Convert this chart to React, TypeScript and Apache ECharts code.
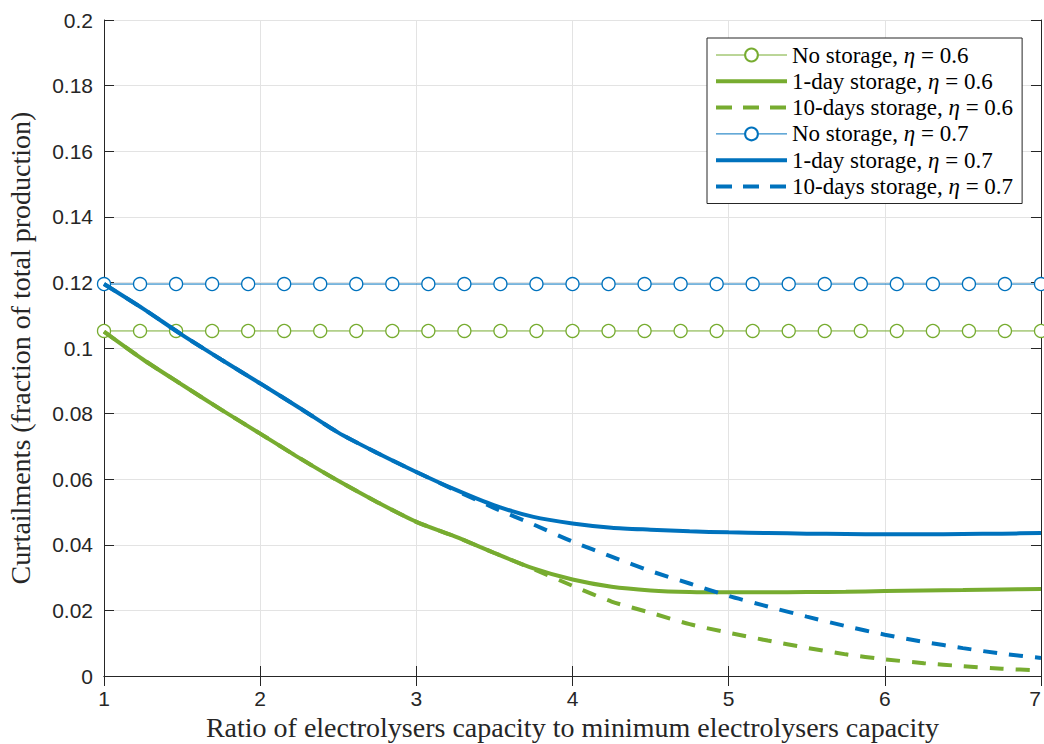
import React, { useEffect, useRef } from "react";
import * as echarts from "echarts";

const xGrid = [1, 1.25, 1.5, 1.75, 2, 2.25, 2.5, 2.75, 3, 3.25, 3.5, 3.75, 4, 4.25, 4.5, 4.75, 5, 5.25, 5.5, 5.75, 6, 6.25, 6.5, 6.75, 7];

const green1Day = [0.1050, 0.0965, 0.0888, 0.0812, 0.0739, 0.0665, 0.0595, 0.0530, 0.0470, 0.0425, 0.0375, 0.0328, 0.0294, 0.0272, 0.0261, 0.0256, 0.0255, 0.0255, 0.0256, 0.0257, 0.0259, 0.0261, 0.0262, 0.0264, 0.0265];
const green10Days = [0.1050, 0.0965, 0.0888, 0.0812, 0.0739, 0.0665, 0.0595, 0.0530, 0.0470, 0.0425, 0.0375, 0.0326, 0.0275, 0.0227, 0.0193, 0.0158, 0.0132, 0.0108, 0.0086, 0.0066, 0.0051, 0.0039, 0.0030, 0.0022, 0.0017];
const blue1Day = [0.1195, 0.1120, 0.1040, 0.0965, 0.0892, 0.0818, 0.0742, 0.0680, 0.0622, 0.0568, 0.0520, 0.0485, 0.0465, 0.0452, 0.0446, 0.0441, 0.0438, 0.0436, 0.0434, 0.0433, 0.0432, 0.0432, 0.0433, 0.0434, 0.0436];
const blue10Days = [0.1195, 0.1120, 0.1040, 0.0965, 0.0892, 0.0818, 0.0742, 0.0680, 0.0622, 0.0566, 0.0512, 0.0462, 0.0410, 0.0364, 0.0320, 0.0282, 0.0244, 0.0212, 0.0181, 0.0152, 0.0126, 0.0104, 0.0085, 0.0068, 0.0055];

const markerX = [1, 1.2308, 1.4615, 1.6923, 1.9231, 2.1538, 2.3846, 2.6154, 2.8462, 3.0769, 3.3077, 3.5385, 3.7692, 4, 4.2308, 4.4615, 4.6923, 4.9231, 5.1538, 5.3846, 5.6154, 5.8462, 6.0769, 6.3077, 6.5385, 6.7692, 7];
const greenNoStorage = 0.1052;
const blueNoStorage = 0.1195;

const seriesNames = [
  "No storage, η = 0.6",
  "1-day storage, η = 0.6",
  "10-days storage, η = 0.6",
  "No storage, η = 0.7",
  "1-day storage, η = 0.7",
  "10-days storage, η = 0.7",
];

const xTitle = "Ratio of electrolysers capacity to minimum electrolysers capacity";
const yTitle = "Curtailments (fraction of total production)";

const GREEN = "#77AC30";
const BLUE = "#0072BD";
const AXIS = "#262626";

const pair = (xs: number[], ys: number[]) => xs.map((x, i) => [x, ys[i]]);
const flat = (xs: number[], v: number) => xs.map((x) => [x, v]);

export default function App() {
  const ref = useRef<HTMLDivElement>(null);
  useEffect(() => {
    if (!ref.current) return;
    const chart = echarts.init(ref.current, null, { renderer: "svg" });
    const tickFont = { fontFamily: "Liberation Sans", fontSize: 21, color: AXIS };
    const thick = (name: string, color: string, data: number[][], dashed: boolean) => ({
      name,
      type: "line",
      data,
      symbol: "none",
      smooth: 0.25,
      lineStyle: { color, width: 4, type: dashed ? [14, 12] : "solid" },
      itemStyle: { color },
      z: 3,
    });
    const noStore = (name: string, color: string, data: number[][]) => ({
      name,
      type: "line",
      data,
      symbol: "circle",
      symbolSize: 13,
      lineStyle: { color, width: 1 },
      itemStyle: { color: "#ffffff", borderColor: color, borderWidth: 1.3 },
      z: 2,
    });
    const colors = [GREEN, GREEN, GREEN, BLUE, BLUE, BLUE];
    const legendItem = (i: number) => {
      const kind = i % 3;
      const base: any = { name: seriesNames[i] };
      if (kind === 0) {
        base.lineStyle = { width: 1, color: colors[i], type: "solid" };
      } else {
        base.itemStyle = { opacity: 0 };
        base.lineStyle = { width: 4, color: colors[i], type: kind === 2 ? [16, 11] : "solid" };
      }
      return base;
    };
    chart.setOption({
      animation: false,
      backgroundColor: "#ffffff",
      grid: { left: 104, top: 20, right: 3, bottom: 68, containLabel: false, outerBoundsMode: "none" },
      legend: {
        orient: "vertical",
        left: 707,
        top: 38,
        padding: [5, 9, 5, 7],
        itemWidth: 71,
        itemHeight: 16,
        itemGap: 2.3,
        backgroundColor: "#ffffff",
        borderColor: AXIS,
        borderWidth: 1,
        borderRadius: 0,
        data: seriesNames.map((_, i) => legendItem(i)),
        formatter: (n: string) => n.replace("η", "{i|η}"),
        textStyle: {
          fontFamily: "Liberation Serif",
          fontSize: 23,
          color: "#000",
          lineHeight: 24,
          rich: { i: { fontFamily: "Liberation Serif", fontStyle: "italic", fontSize: 23, lineHeight: 24, color: "#000" } },
        },
      },
      xAxis: [
        {
          type: "value",
          min: 1,
          max: 7,
          interval: 1,
          name: xTitle,
          nameLocation: "middle",
          nameGap: 37,
          nameTextStyle: { fontFamily: "Liberation Serif", fontSize: 28, color: AXIS },
          axisLine: { lineStyle: { color: AXIS, width: 1 } },
          axisTick: { inside: true, length: 10, lineStyle: { color: AXIS } },
          axisLabel: { ...tickFont, margin: 12, alignMaxLabel: "right" },
          splitLine: { show: true, lineStyle: { color: "#e3e3e3", width: 1 } },
        },
        {
          type: "value",
          position: "top",
          min: 1,
          max: 7,
          interval: 1,
          axisLine: { show: true, lineStyle: { color: AXIS, width: 1 } },
          axisTick: { inside: true, length: 10, lineStyle: { color: AXIS } },
          axisLabel: { show: false },
          splitLine: { show: false },
        },
      ],
      yAxis: [
        {
          type: "value",
          min: 0,
          max: 0.2,
          interval: 0.02,
          name: yTitle,
          nameLocation: "middle",
          nameGap: 70,
          nameTextStyle: { fontFamily: "Liberation Serif", fontSize: 28, color: AXIS },
          axisLine: { show: true, lineStyle: { color: AXIS, width: 1 } },
          axisTick: { show: true, inside: true, length: 10, lineStyle: { color: AXIS } },
          axisLabel: { ...tickFont, margin: 11 },
          splitLine: { show: true, lineStyle: { color: "#e3e3e3", width: 1 } },
        },
        {
          type: "value",
          position: "right",
          min: 0,
          max: 0.2,
          interval: 0.02,
          axisLine: { show: true, lineStyle: { color: AXIS, width: 1 } },
          axisTick: { show: true, inside: true, length: 10, lineStyle: { color: AXIS } },
          axisLabel: { show: false },
          splitLine: { show: false },
        },
      ],
      series: [
        noStore(seriesNames[0], GREEN, flat(markerX, greenNoStorage)),
        thick(seriesNames[1], GREEN, pair(xGrid, green1Day), false),
        thick(seriesNames[2], GREEN, pair(xGrid, green10Days), true),
        noStore(seriesNames[3], BLUE, flat(markerX, blueNoStorage)),
        thick(seriesNames[4], BLUE, pair(xGrid, blue1Day), false),
        thick(seriesNames[5], BLUE, pair(xGrid, blue10Days), true),
      ],
    });
    return () => chart.dispose();
  }, []);
  return <div ref={ref} style={{ position: "absolute", left: 0, top: 0, width: 1044, height: 744 }} />;
}
